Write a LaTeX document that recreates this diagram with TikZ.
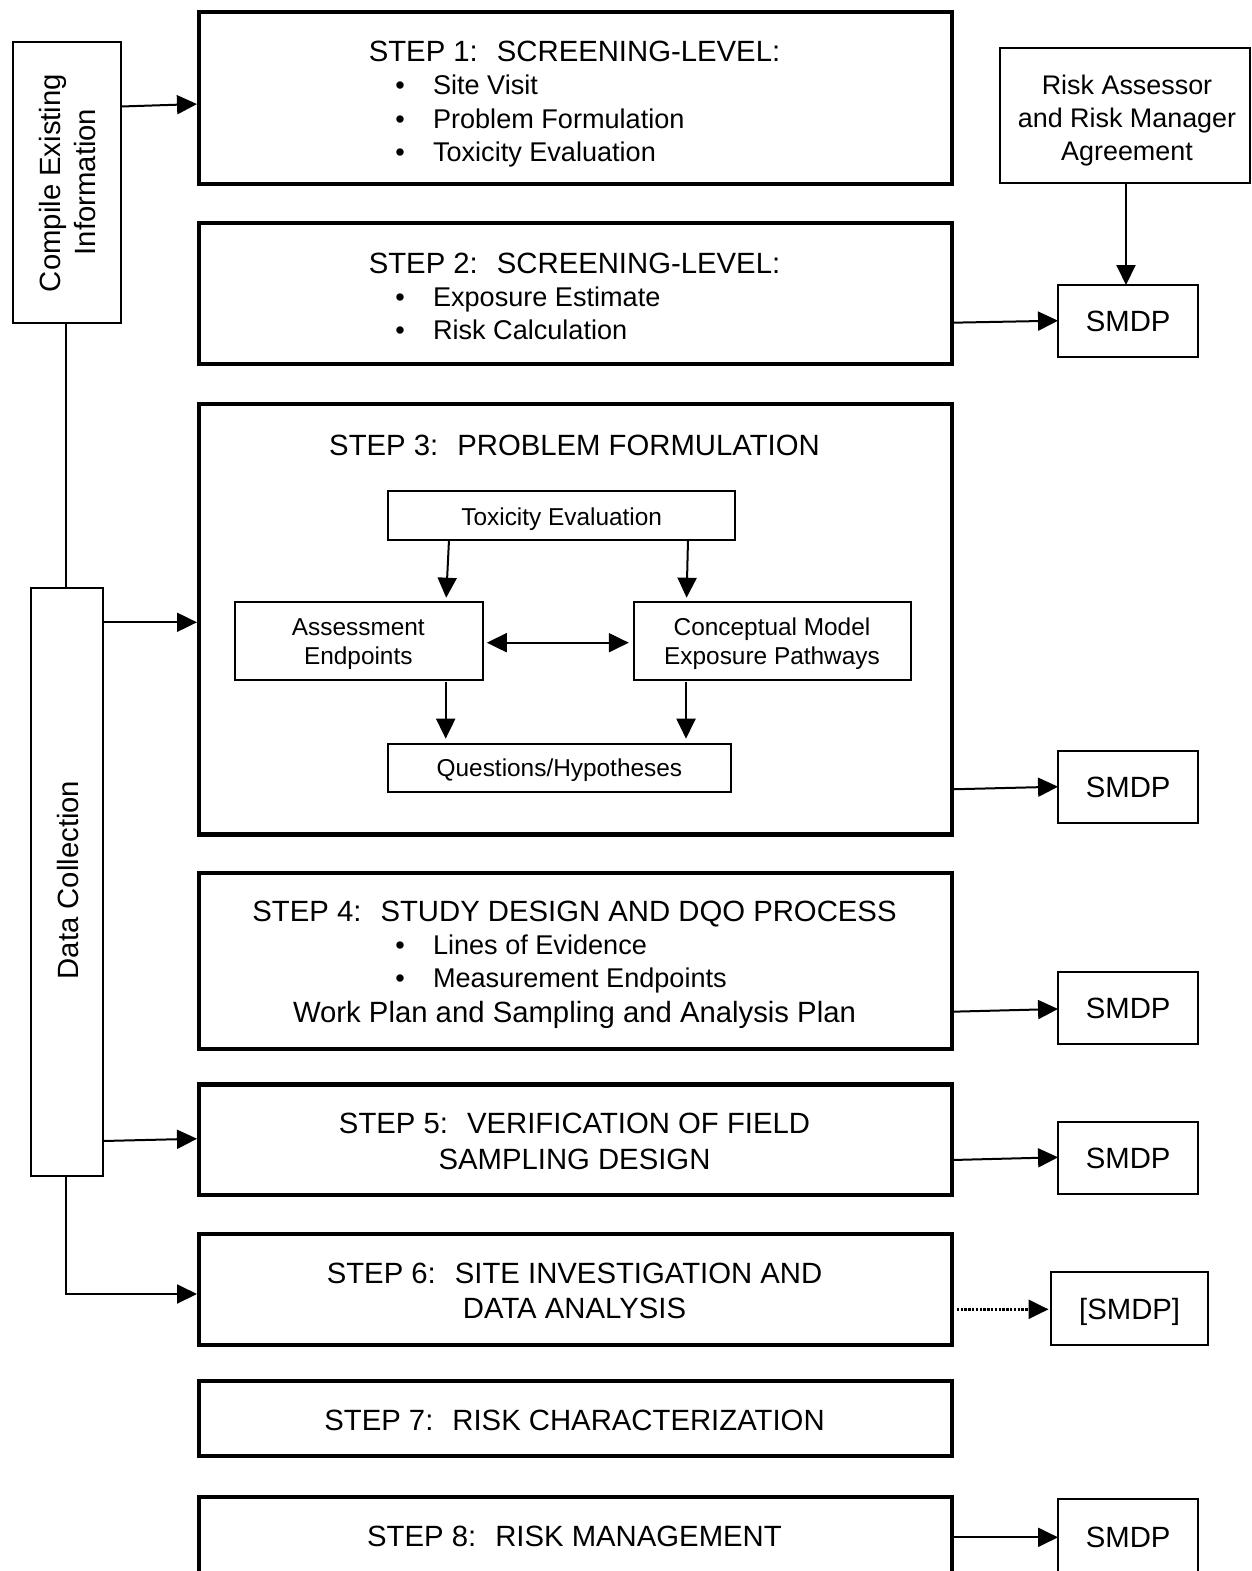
\documentclass[tikz,border=0pt]{standalone}
\usepackage{fontspec}
\setmainfont{Liberation Sans}
\usetikzlibrary{arrows.meta}
\newcommand{\fmain}{\fontsize{29.3}{35}\selectfont}
\newcommand{\fsub}{\fontsize{27.1}{32}\selectfont}
\newcommand{\frisk}{\fontsize{26.9}{32}\selectfont}
\newcommand{\finner}{\fontsize{24.4}{29}\selectfont}
\tikzset{
  bigbox/.style={draw, line width=4.5pt, inner sep=0pt, outer sep=0pt, minimum width=753pt},
  thinbox/.style={draw, line width=2pt, inner sep=0pt, outer sep=0pt},
  smdpbox/.style={thinbox, minimum width=140.3pt, minimum height=72.3pt, font=\fmain, text height=21pt, text depth=0pt},
  txt/.style={inner sep=0pt, outer sep=0pt, anchor=base, font=\fmain},
  btxt/.style={inner sep=0pt, outer sep=0pt, anchor=base west, font=\fsub},
  bul/.style={inner sep=0pt, outer sep=0pt, anchor=base, font=\fsub},
  rtxt/.style={txt, font=\frisk},
  itxt/.style={txt, font=\finner},
  tipA/.tip={Triangle[length=20pt,width=19pt]},
  arr/.style={line width=2pt, -tipA},
  darr/.style={line width=2pt, tipA-tipA},
  dotarr/.style={line width=2.8pt, dash pattern=on 2.4pt off 1.4pt, -tipA}
}
\begin{document}
\begin{tikzpicture}[x=1pt,y=-1pt]
\clip (0,0) rectangle (1251,1571);
\fill[white] (0,0) rectangle (1251,1571);

% ---------- step boxes ----------
\node[bigbox, minimum height=172pt]   (s1) at (575.5,98) {};
\node[bigbox, minimum height=141pt]   (s2) at (575.5,293.5) {};
\node[bigbox, minimum height=430.5pt] (s3) at (575.5,619.25) {};
\node[bigbox, minimum height=176pt]   (s4) at (575.5,961) {};
\node[bigbox, minimum height=110.5pt] (s5) at (575.5,1139.75) {};
\node[bigbox, minimum height=111pt]   (s6) at (575.5,1289.5) {};
\node[bigbox, minimum height=75pt]    (s7) at (575.5,1418.5) {};
\node[bigbox, minimum height=123pt]   (s8) at (575.5,1558.5) {};

% ---------- step texts ----------
\node[txt] (t1) at (574.5,62) {STEP 1:~ SCREENING-LEVEL:};
\node[bul] (b1a) at (400,95) {•};
\node[bul] (b1b) at (400,128) {•};
\node[bul] (b1c) at (400,161) {•};
\node[btxt] (t1a) at (433,95) {Site Visit};
\node[btxt] (t1b) at (433,128) {Problem Formulation};
\node[btxt] (t1c) at (433,161) {Toxicity Evaluation};

\node[txt] (t2) at (574.5,273) {STEP 2:~ SCREENING-LEVEL:};
\node[bul] (b2a) at (400,306) {•};
\node[bul] (b2b) at (400,339) {•};
\node[btxt] (t2a) at (433,306) {Exposure Estimate};
\node[btxt] (t2b) at (433,339) {Risk Calculation};

\node[txt] (t3) at (574.5,455) {STEP 3:~ PROBLEM FORMULATION};

\node[txt] (t4) at (574.5,921) {STEP 4:~ STUDY DESIGN AND DQO PROCESS};
\node[bul] (b4a) at (400,954.5) {•};
\node[bul] (b4b) at (400,987.5) {•};
\node[btxt] (t4a) at (433,954.5) {Lines of Evidence};
\node[btxt] (t4b) at (433,987.5) {Measurement Endpoints};
\node[txt] (t4c) at (574.5,1022) {Work Plan and Sampling and Analysis Plan};

\node[txt] (t5a) at (574.5,1133) {STEP 5:~ VERIFICATION OF FIELD};
\node[txt] (t5b) at (574.5,1169) {SAMPLING DESIGN};

\node[txt] (t6a) at (574.5,1283) {STEP 6:~ SITE INVESTIGATION AND};
\node[txt] (t6b) at (574.5,1318) {DATA ANALYSIS};

\node[txt] (t7) at (574.5,1430) {STEP 7:~ RISK CHARACTERIZATION};
\node[txt] (t8) at (574.5,1546) {STEP 8:~ RISK MANAGEMENT};

% ---------- left column ----------
\node[thinbox, minimum width=108.5pt, minimum height=280.5pt] (ce) at (66.75,182.25) {};
\node[txt, rotate=90] (ce1) at (60.5,183) {Compile Existing};
\node[txt, rotate=90] (ce2) at (95,182) {Information};

\node[thinbox, minimum width=72pt, minimum height=588pt] (dc) at (67,881.85) {};
\node[txt, rotate=90] (dct) at (78,880) {Data Collection};

% ---------- right column ----------
\node[thinbox, minimum width=249.8pt, minimum height=135pt] (ra) at (1124.6,115.8) {};
\node[rtxt] (ra1) at (1127,94) {Risk Assessor};
\node[rtxt] (ra2) at (1127,127) {and Risk Manager};
\node[rtxt] (ra3) at (1127,160) {Agreement};

\node[smdpbox] (m1) at (1128.2,321.15) {SMDP};
\node[smdpbox] (m2) at (1128.2,786.8) {SMDP};
\node[smdpbox] (m3) at (1128.2,1007.85) {SMDP};
\node[smdpbox] (m4) at (1128.2,1157.85) {SMDP};
\node[smdpbox, minimum width=157.3pt, minimum height=72.7pt] (mb) at (1129.65,1308.65) {[SMDP]};
\node[thinbox, minimum width=140.3pt, minimum height=101.3pt] (m5) at (1128.2,1549.35) {};
\node[txt] (m5t) at (1128.2,1547) {SMDP};

% ---------- step 3 inner boxes ----------
\node[thinbox, minimum width=346.6pt, minimum height=48.7pt] (tox) at (561.7,515.35) {};
\node[itxt] (toxt) at (561.7,525) {Toxicity Evaluation};
\node[thinbox, minimum width=248pt, minimum height=78.3pt] (as) at (358.8,640.85) {};
\node[itxt] (as1) at (358.3,635) {Assessment};
\node[itxt] (as2) at (358.3,664.3) {Endpoints};
\node[thinbox, minimum width=276.9pt, minimum height=78.3pt] (cm) at (772.25,640.85) {};
\node[itxt] (cm1) at (772,635) {Conceptual Model};
\node[itxt] (cm2) at (772,664.3) {Exposure Pathways};
\node[thinbox, minimum width=342.1pt, minimum height=48pt] (q) at (559.45,767.7) {};
\node[itxt] (qt) at (559.4,776) {Questions/Hypotheses};

% ---------- connectors ----------
\draw[arr, shorten >=2pt] (ce.east |- 0,106.5) -- (s1.west |- 0,104);
\draw[line width=2pt] (66,0 |- ce.south) -- (66,0 |- dc.north);
\draw[arr, shorten >=2pt] (dc.east |- 0,622.3) -- (s3.west |- 0,622.3);
\draw[arr, shorten >=2pt] (dc.east |- 0,1141) -- (s5.west |- 0,1138.7);
\draw[arr, shorten >=2pt] (66,0 |- dc.south) |- (s6.west |- 0,1294);

\draw[arr] (1126,0 |- ra.south) -- (1126,0 |- m1.north);
\draw[arr, shorten <=2pt] (s2.east |- 0,322.7) -- (m1.west |- 0,320.7);
\draw[arr, shorten <=2pt] (s3.east |- 0,789.3) -- (m2.west |- 0,786.7);
\draw[arr, shorten <=2pt] (s4.east |- 0,1011.7) -- (m3.west |- 0,1009);
\draw[arr, shorten <=2pt] (s5.east |- 0,1160) -- (m4.west |- 0,1157.3);
\draw[dotarr, shorten <=4.7pt, shorten >=2.5pt] (s6.east |- 0,1309.3) -- (mb.west |- 0,1309.3);
\draw[arr, shorten <=2pt] (s8.east |- 0,1537.3) -- (m5.west |- 0,1537.3);

\draw[arr, shorten <=1.5pt, shorten >=4pt] (449,0 |- tox.south) -- (446,0 |- as.north);
\draw[arr, shorten <=1.5pt, shorten >=4pt] (688,0 |- tox.south) -- (686.5,0 |- cm.north);
\draw[darr, shorten <=4pt, shorten >=5pt] (as.east |- 0,642.7) -- (cm.west |- 0,642.7);
\draw[arr, shorten <=2pt, shorten >=5pt] (445.7,0 |- as.south) -- (445.7,0 |- q.north);
\draw[arr, shorten <=2pt, shorten >=5pt] (686,0 |- cm.south) -- (686,0 |- q.north);
\end{tikzpicture}
\end{document}
